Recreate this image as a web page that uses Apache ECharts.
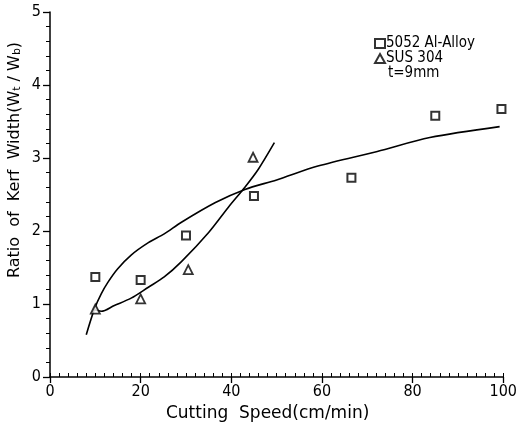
<!DOCTYPE html>
<html>
<head>
<meta charset="utf-8">
<script src="https://cdn.jsdelivr.net/npm/echarts@6/dist/echarts.min.js"></script>
<style>html,body{margin:0;padding:0;background:#fff}#c{width:520px;height:427px}</style>
</head>
<body>
<div id="c"></div>
<script>
// Measured points
const alX = [10, 20, 30, 45, 66.5, 85, 99.6];
const alY = [1.37, 1.33, 1.94, 2.48, 2.73, 3.58, 3.67];
const susX = [10, 20, 30.5, 44.8];
const susY = [0.93, 1.07, 1.47, 3.01];
// Fitted curves (traced)
const alCurveX = [8.0, 9.85, 11.3, 12.8, 14.9, 17.9, 21.7, 25.2, 29.0, 36.5, 43, 50, 59.1, 72.2, 83.8, 99.2];
const alCurveY = [0.58, 0.94, 1.14, 1.30, 1.48, 1.67, 1.84, 1.96, 2.12, 2.39, 2.57, 2.70, 2.89, 3.09, 3.28, 3.43];
const susCurveX = [9.85, 11.3, 14.2, 17.9, 21.7, 25.2, 29.0, 35, 39.4, 43, 46, 49.5];
const susCurveY = [0.92, 0.90, 0.98, 1.08, 1.23, 1.37, 1.58, 1.98, 2.33, 2.6, 2.85, 3.21];
const xTicks = [0, 20, 40, 60, 80, 100];
const yTicks = [0, 1, 2, 3, 4, 5];
const seriesNames = ['5052 Al-Alloy', 'SUS 304'];
const noteText = 't=9mm';

const zip = (a, b) => a.map((v, i) => [v, b[i]]);
const FONT = '"DejaVu Sans Condensed", "DejaVu Sans", sans-serif';
const WIDE = '"DejaVu Sans", sans-serif';
const chart = echarts.init(document.getElementById('c'));
chart.setOption({
  animation: false,
  backgroundColor: '#fff',
  grid: { left: 50, right: 13, top: 12, bottom: 48 },
  xAxis: [{
    type: 'value', min: xTicks[0], max: xTicks[xTicks.length - 1], interval: 20,
    axisLine: { lineStyle: { color: '#000', width: 1.5 } },
    axisTick: { length: 6, lineStyle: { color: '#000', width: 1.3 } },
    axisLabel: { color: '#000', fontSize: 16, fontFamily: FONT, margin: 7 },
    splitLine: { show: false },
    name: 'Cutting  Speed(cm/min)', nameLocation: 'middle', nameGap: 28,
    nameTextStyle: { color: '#000', fontSize: 17, fontFamily: WIDE, padding: [0, 18, 0, 0] }
  }, {
    type: 'value', min: 0, max: 100, interval: 2, position: 'bottom',
    axisLine: { show: false },
    axisTick: { inside: true, length: 4, lineStyle: { color: '#000', width: 1 } },
    axisLabel: { show: false }, splitLine: { show: false }
  }],
  yAxis: {
    type: 'value', min: yTicks[0], max: yTicks[yTicks.length - 1], interval: 1,
    axisLine: { lineStyle: { color: '#000', width: 1.5 } },
    axisTick: { length: 7, lineStyle: { color: '#000', width: 1.3 } },
    minorTick: { show: true, splitNumber: 5, length: 4, lineStyle: { color: '#000', width: 1 } },
    axisLabel: { color: '#000', fontSize: 16, fontFamily: FONT, margin: 9 },
    splitLine: { show: false }
  },
  legend: {
    orient: 'vertical', left: 369, top: 31, itemGap: 0, itemWidth: 10, itemHeight: 9,
    textStyle: { color: '#000', fontSize: 15, fontFamily: FONT, padding: [0, 0, 0, -4] },
    data: seriesNames
  },
  graphic: [{
    type: 'text', left: 388, top: 66,
    style: { text: noteText, font: '15px ' + FONT, fill: '#000' }
  }, {
    type: 'text', x: 6, y: 160, rotation: Math.PI / 2,
    style: {
      text: 'Ratio  of  Kerf  Width(W{s|t} / W{s|b})',
      font: '16px ' + WIDE, fill: '#000', align: 'center', verticalAlign: 'top',
      rich: { s: { fontSize: 11, fontFamily: WIDE, fill: '#000', padding: [6, 0, 0, 0] } }
    }
  }],
  series: [{
    name: seriesNames[0], type: 'scatter', symbol: 'rect', symbolSize: 8,
    itemStyle: { color: '#fff', borderColor: '#000', borderWidth: 2 },
    data: zip(alX, alY), z: 3
  }, {
    name: seriesNames[1], type: 'scatter', symbol: 'triangle', symbolSize: 9,
    itemStyle: { color: '#fff', borderColor: '#000', borderWidth: 1.8 },
    data: zip(susX, susY), z: 3
  }, {
    type: 'line', smooth: 0.3, showSymbol: false, symbol: 'none',
    lineStyle: { color: '#000', width: 1.6 }, data: zip(alCurveX, alCurveY)
  }, {
    type: 'line', smooth: 0.3, showSymbol: false, symbol: 'none',
    lineStyle: { color: '#000', width: 1.6 }, data: zip(susCurveX, susCurveY)
  }]
});
</script>
</body>
</html>
